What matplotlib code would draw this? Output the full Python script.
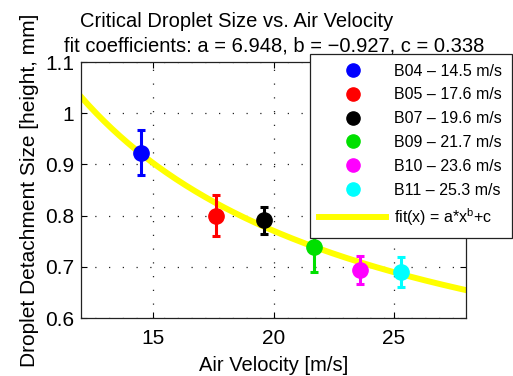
import numpy as np
import matplotlib
matplotlib.use("Agg")
import matplotlib.pyplot as plt
from matplotlib.lines import Line2D

plt.rcParams['font.family'] = ['Liberation Sans', 'DejaVu Sans']

# measured droplet detachment sizes
runs = ["B04", "B05", "B07", "B09", "B10", "B11"]
velocity = [14.5, 17.6, 19.6, 21.7, 23.6, 25.3]
drop_size = [0.923, 0.800, 0.791, 0.738, 0.694, 0.690]
drop_err = [0.044, 0.040, 0.026, 0.048, 0.028, 0.030]
colors = ["#0000ff", "#ff0000", "#000000", "#00e000", "#ff00ff", "#00ffff"]

# fit coefficients (from the title)
a, b, c = 6.948, -0.927, 0.338

fig = plt.figure(figsize=(5.13, 3.76), dpi=100)
ax = fig.add_axes([81 / 513, 58 / 376, 385 / 513, 256 / 376])

# fit curve
xf = np.linspace(12, 28, 200)
ax.plot(xf, a * xf ** b + c, color="#ffff00", lw=4.3, zorder=2)

handles = []
for name, v, s, e, col in zip(runs, velocity, drop_size, drop_err, colors):
    ax.errorbar(v, s, yerr=e, fmt="o", color=col, ms=11, elinewidth=2.2,
                capsize=2.6, capthick=2.2, zorder=3)
    handles.append(Line2D([], [], ls="none", marker="o", ms=9.5, color=col,
                          label=f"{name} \u2013 {v} m/s"))
handles.append(Line2D([], [], color="#ffff00", lw=4.3,
                      label=r"fit(x) = a*x$^{\mathregular{b}}$+c"))

ax.set_xlim(12, 28)
ax.set_ylim(0.6, 1.1)
ax.set_xticks([15, 20, 25])
ax.set_yticks([0.6, 0.7, 0.8, 0.9, 1.0, 1.1])
ax.set_yticklabels(["0.6", "0.7", "0.8", "0.9", "1", "1.1"])
ax.tick_params(direction="in", top=True, right=True, length=4, labelsize=15)
ax.tick_params(axis="x", pad=8)
ax.tick_params(axis="y", pad=5)
ax.grid(True, color="#222222", lw=0.9, linestyle=(0, (1, 10)))
for sp in ax.spines.values():
    sp.set_color("#222222")
    sp.set_linewidth(0.9)

ax.set_xlabel("Air Velocity [m/s]", fontsize=14.5, labelpad=6)
ax.set_ylabel("Droplet Detachment Size [height, mm]", fontsize=15, labelpad=4)

fig.text(237 / 513, 1 - 27 / 376, "Critical Droplet Size vs. Air Velocity",
         ha="center", va="baseline", fontsize=14.5)
fig.text(274 / 513, 1 - 52 / 376,
         "fit coefficients: a = 6.948, b = \u22120.927, c = 0.338",
         ha="center", va="baseline", fontsize=14.5)

leg = fig.legend(handles=handles, loc="upper right",
                 bbox_to_anchor=(512 / 513, 1 - 54 / 376), borderaxespad=0,
                 fontsize=11.5, handlelength=4.2, handletextpad=0.5,
                 labelspacing=0.55, borderpad=0.6,
                 fancybox=False, framealpha=1, edgecolor="#222222")
leg.get_frame().set_linewidth(0.9)
leg.set_zorder(5)

fig.savefig("out.png", dpi=100)
